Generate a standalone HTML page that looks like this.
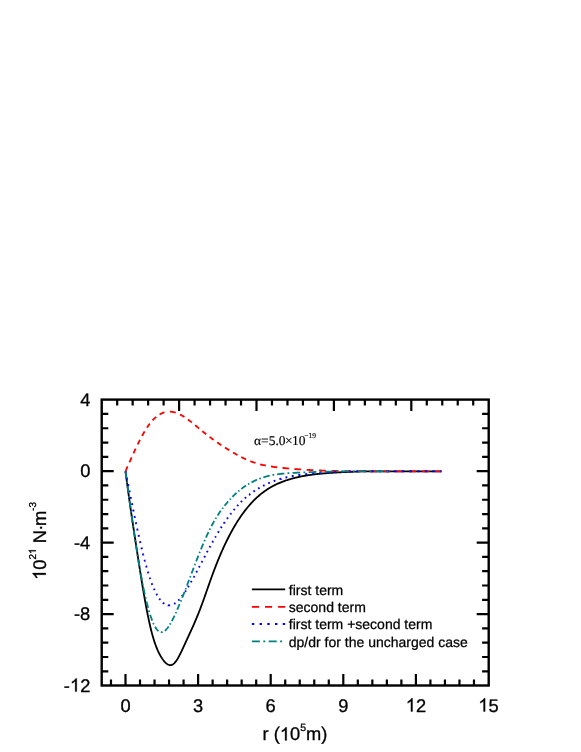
<!DOCTYPE html>
<html lang="en"><head><meta charset="utf-8"><title>chart</title>
<style>html,body{margin:0;padding:0;background:#fff;}svg{display:block;will-change:transform;}svg text{text-rendering:geometricPrecision;}</style></head>
<body>
<svg width="581" height="752" viewBox="0 0 581 752">
<rect width="581" height="752" fill="#fff"/>
<path d="M125.50,471.30 L126.13,476.12 L126.76,480.89 L127.40,485.60 L128.03,490.25 L128.66,494.84 L129.29,499.39 L129.92,503.87 L130.56,508.30 L131.19,512.68 L131.82,517.00 L132.45,521.26 L133.08,525.48 L133.72,529.65 L134.35,533.79 L134.98,537.91 L135.61,542.01 L136.24,546.10 L136.88,550.19 L137.51,554.28 L138.14,558.37 L138.77,562.45 L139.40,566.50 L140.04,570.53 L140.67,574.53 L141.30,578.49 L141.93,582.40 L142.56,586.25 L143.20,590.04 L143.83,593.77 L144.46,597.41 L145.09,600.98 L145.72,604.45 L146.36,607.84 L146.99,611.13 L147.62,614.33 L148.25,617.42 L148.88,620.41 L149.52,623.28 L150.15,626.05 L150.78,628.70 L151.41,631.23 L152.04,633.64 L152.68,635.93 L153.31,638.10 L153.94,640.15 L154.57,642.10 L155.20,643.94 L155.84,645.69 L156.47,647.33 L157.10,648.89 L157.73,650.36 L158.36,651.74 L159.00,653.04 L159.63,654.27 L160.26,655.43 L160.89,656.52 L161.52,657.54 L162.16,658.51 L162.79,659.42 L163.42,660.28 L164.05,661.08 L164.68,661.81 L165.32,662.49 L165.95,663.09 L166.58,663.62 L167.21,664.08 L167.84,664.45 L168.48,664.75 L169.11,664.97 L169.74,665.10 L170.37,665.14 L171.00,665.09 L171.64,664.94 L172.27,664.69 L172.90,664.34 L173.53,663.89 L174.16,663.33 L174.80,662.68 L175.43,661.93 L176.06,661.11 L176.69,660.20 L177.32,659.22 L177.96,658.17 L178.59,657.06 L179.22,655.90 L179.85,654.69 L180.48,653.44 L181.12,652.14 L181.75,650.82 L182.38,649.48 L183.01,648.11 L183.64,646.74 L184.28,645.35 L184.91,643.97 L185.54,642.59 L186.17,641.21 L186.81,639.84 L187.44,638.48 L188.07,637.11 L188.70,635.74 L189.33,634.37 L189.97,632.99 L190.60,631.61 L191.23,630.23 L191.86,628.83 L192.49,627.43 L193.13,626.01 L193.76,624.58 L194.39,623.14 L195.02,621.68 L195.65,620.21 L196.29,618.71 L196.92,617.20 L197.55,615.66 L198.18,614.10 L198.81,612.52 L199.45,610.91 L200.08,609.27 L200.71,607.60 L201.34,605.92 L201.97,604.21 L202.61,602.48 L203.24,600.73 L203.87,598.97 L204.50,597.19 L205.13,595.41 L205.77,593.62 L206.40,591.82 L207.03,590.02 L207.66,588.21 L208.29,586.41 L208.93,584.61 L209.56,582.82 L210.19,581.04 L210.82,579.26 L211.45,577.50 L212.09,575.75 L212.72,574.02 L213.35,572.31 L213.98,570.62 L214.61,568.95 L215.25,567.30 L215.88,565.67 L216.51,564.07 L217.14,562.48 L217.77,560.91 L218.41,559.36 L219.04,557.84 L219.67,556.33 L220.30,554.84 L220.93,553.37 L221.57,551.92 L222.20,550.49 L222.83,549.08 L223.46,547.69 L224.09,546.32 L224.73,544.97 L225.36,543.63 L225.99,542.31 L226.62,541.01 L227.25,539.73 L227.89,538.47 L228.52,537.22 L229.15,536.00 L229.78,534.79 L230.41,533.59 L231.05,532.42 L231.68,531.26 L232.31,530.12 L232.94,529.00 L233.57,527.89 L234.21,526.80 L234.84,525.72 L235.47,524.67 L236.10,523.62 L236.73,522.60 L237.37,521.59 L238.00,520.59 L238.63,519.62 L239.26,518.65 L239.89,517.71 L240.53,516.77 L241.16,515.86 L241.79,514.96 L242.42,514.07 L243.05,513.20 L243.69,512.34 L244.32,511.49 L244.95,510.66 L245.58,509.85 L246.21,509.05 L246.85,508.26 L247.48,507.49 L248.11,506.73 L248.74,505.98 L249.37,505.25 L250.01,504.53 L250.64,503.82 L251.27,503.12 L251.90,502.44 L252.53,501.77 L253.17,501.12 L253.80,500.47 L254.43,499.84 L255.06,499.22 L255.69,498.61 L256.33,498.02 L256.96,497.43 L257.59,496.86 L258.22,496.30 L258.85,495.75 L259.49,495.21 L260.12,494.68 L260.75,494.16 L261.38,493.65 L262.01,493.15 L262.65,492.67 L263.28,492.19 L263.91,491.72 L264.54,491.26 L265.17,490.81 L265.81,490.38 L266.44,489.95 L267.07,489.53 L267.70,489.12 L268.33,488.71 L268.97,488.32 L269.60,487.94 L270.23,487.56 L270.86,487.19 L271.49,486.83 L272.13,486.48 L272.76,486.14 L273.39,485.80 L274.02,485.47 L274.65,485.15 L275.29,484.84 L275.92,484.53 L276.55,484.23 L277.18,483.94 L277.81,483.65 L278.45,483.37 L279.08,483.09 L279.71,482.83 L280.34,482.57 L280.97,482.31 L281.61,482.06 L282.24,481.82 L282.87,481.58 L283.50,481.34 L284.13,481.11 L284.77,480.89 L285.40,480.67 L286.03,480.46 L286.66,480.25 L287.29,480.04 L287.93,479.84 L288.56,479.65 L289.19,479.45 L289.82,479.27 L290.45,479.08 L291.09,478.90 L291.72,478.72 L292.35,478.55 L292.98,478.38 L293.61,478.21 L294.25,478.05 L294.88,477.89 L295.51,477.73 L296.14,477.58 L296.77,477.43 L297.41,477.28 L298.04,477.14 L298.67,477.00 L299.30,476.86 L299.93,476.72 L300.57,476.59 L301.20,476.46 L301.83,476.34 L302.46,476.22 L303.09,476.10 L303.73,475.98 L304.36,475.86 L304.99,475.75 L305.62,475.64 L306.26,475.54 L306.89,475.43 L307.52,475.33 L308.15,475.23 L308.78,475.13 L309.42,475.04 L310.05,474.95 L310.68,474.86 L311.31,474.77 L311.94,474.68 L312.58,474.60 L313.21,474.52 L313.84,474.44 L314.47,474.36 L315.10,474.29 L315.74,474.21 L316.37,474.14 L317.00,474.07 L317.63,474.00 L318.26,473.93 L318.90,473.87 L319.53,473.80 L320.16,473.74 L320.79,473.68 L321.42,473.62 L322.06,473.56 L322.69,473.50 L323.32,473.45 L323.95,473.39 L324.58,473.34 L325.22,473.29 L325.85,473.23 L326.48,473.18 L327.11,473.14 L327.74,473.09 L328.38,473.04 L329.01,472.99 L329.64,472.95 L330.27,472.90 L330.90,472.86 L331.54,472.81 L332.17,472.77 L332.80,472.73 L333.43,472.69 L334.06,472.65 L334.70,472.61 L335.33,472.57 L335.96,472.53 L336.59,472.49 L337.22,472.45 L337.86,472.42 L338.49,472.38 L339.12,472.35 L339.75,472.31 L340.38,472.28 L341.02,472.25 L341.65,472.21 L342.28,472.18 L342.91,472.15 L343.54,472.12 L344.18,472.09 L344.81,472.06 L345.44,472.04 L346.07,472.01 L346.70,471.98 L347.34,471.96 L347.97,471.93 L348.60,471.91 L349.23,471.88 L349.86,471.86 L350.50,471.83 L351.13,471.81 L351.76,471.79 L352.39,471.76 L353.02,471.74 L353.66,471.71 L354.29,471.69 L354.92,471.66 L355.55,471.64 L356.18,471.62 L356.82,471.59 L357.45,471.57 L358.08,471.55 L358.71,471.53 L359.34,471.51 L359.98,471.49 L360.61,471.47 L361.24,471.45 L361.87,471.44 L362.50,471.42 L363.14,471.41 L363.77,471.40 L364.40,471.38 L365.03,471.37 L365.66,471.36 L366.30,471.35 L366.93,471.35 L367.56,471.34 L368.19,471.33 L368.82,471.33 L369.46,471.32 L370.09,471.32 L370.72,471.31 L371.35,471.31 L371.98,471.31 L372.62,471.31 L373.25,471.30 L373.88,471.30 L374.51,471.30 L375.14,471.30 L375.78,471.30 L376.41,471.30 L377.04,471.30 L377.67,471.30 L378.30,471.30 L378.94,471.30 L379.57,471.30 L380.20,471.30 L380.83,471.30 L381.46,471.30 L382.10,471.30 L382.73,471.30 L383.36,471.30 L383.99,471.30 L384.62,471.30 L385.26,471.30 L385.89,471.30 L386.52,471.30 L387.15,471.30 L387.78,471.30 L388.42,471.30 L389.05,471.30 L389.68,471.30 L390.31,471.30 L390.94,471.30 L391.58,471.30 L392.21,471.30 L392.84,471.30 L393.47,471.30 L394.10,471.30 L394.74,471.30 L395.37,471.30 L396.00,471.30 L396.63,471.30 L397.26,471.30 L397.90,471.30 L398.53,471.30 L399.16,471.30 L399.79,471.30 L400.42,471.30 L401.06,471.30 L401.69,471.30 L402.32,471.30 L402.95,471.30 L403.58,471.30 L404.22,471.30 L404.85,471.30 L405.48,471.30 L406.11,471.30 L406.74,471.30 L407.38,471.30 L408.01,471.30 L408.64,471.30 L409.27,471.30 L409.90,471.30 L410.54,471.30 L411.17,471.30 L411.80,471.30 L412.43,471.30 L413.06,471.30 L413.70,471.30 L414.33,471.30 L414.96,471.30 L415.59,471.30 L416.22,471.30 L416.86,471.30 L417.49,471.30 L418.12,471.30 L418.75,471.30 L419.38,471.30 L420.02,471.30 L420.65,471.30 L421.28,471.30 L421.91,471.30 L422.55,471.30 L423.18,471.30 L423.81,471.30 L424.44,471.30 L425.07,471.30 L425.71,471.30 L426.34,471.30 L426.97,471.30 L427.60,471.30 L428.23,471.30 L428.87,471.30 L429.50,471.30 L430.13,471.30 L430.76,471.30 L431.39,471.30 L432.03,471.30 L432.66,471.30 L433.29,471.30 L433.92,471.30 L434.55,471.30 L435.19,471.30 L435.82,471.30 L436.45,471.30 L437.08,471.30 L437.71,471.30 L438.35,471.30 L438.98,471.30 L439.61,471.30 L440.24,471.30 L440.87,471.30 L441.40,471.30" fill="none" stroke="#000" stroke-width="1.80" stroke-linejoin="round"/>
<path d="M125.50,471.30 L125.61,471.06 L125.92,470.34 L126.24,469.62 L126.55,468.90 L126.87,468.19 L127.19,467.47 L127.50,466.75 L127.64,466.44 M129.47,462.27 L129.50,462.21 L129.82,461.49 L130.13,460.78 L130.45,460.07 L130.77,459.36 L131.08,458.65 L131.40,457.94 L131.63,457.43 M133.50,453.30 L133.51,453.28 L133.82,452.59 L134.14,451.90 L134.45,451.22 L134.77,450.54 L135.09,449.86 L135.40,449.18 L135.72,448.52 M137.66,444.46 L137.72,444.33 L138.03,443.69 L138.35,443.05 L138.67,442.41 L138.98,441.78 L139.30,441.15 L139.61,440.53 L139.93,439.91 L139.99,439.79 M142.07,435.87 L142.14,435.73 L142.56,434.96 L142.99,434.21 L143.41,433.46 L143.83,432.73 L144.25,432.01 L144.61,431.41 M146.92,427.72 L146.99,427.61 L147.41,426.98 L147.83,426.37 L148.25,425.77 L148.67,425.18 L149.10,424.61 L149.52,424.05 L149.83,423.63 M152.57,420.37 L152.68,420.26 L153.20,419.70 L153.73,419.16 L154.26,418.64 L154.78,418.14 L155.31,417.66 L155.84,417.20 L156.14,416.94 M159.63,414.43 L159.73,414.37 L160.47,413.95 L161.21,413.57 L161.95,413.22 L162.68,412.91 L163.42,412.63 L164.16,412.39 L164.49,412.29 M169.81,411.63 L169.85,411.63 L170.79,411.68 L171.74,411.78 L172.69,411.93 L173.64,412.12 L174.59,412.36 L175.53,412.64 L175.74,412.70 M179.98,414.46 L180.06,414.50 L180.80,414.88 L181.54,415.28 L182.28,415.70 L183.01,416.14 L183.75,416.60 L184.42,417.02 M187.96,419.48 L187.96,419.48 L188.60,419.95 L189.23,420.43 L189.86,420.92 L190.49,421.41 L191.12,421.90 L191.76,422.41 L191.91,422.53 M195.21,425.23 L195.23,425.25 L195.86,425.77 L196.50,426.30 L197.13,426.83 L197.76,427.35 L198.39,427.88 L199.02,428.41 L199.03,428.41 M202.30,431.14 L202.39,431.21 L203.03,431.73 L203.66,432.25 L204.29,432.76 L204.92,433.27 L205.55,433.78 L206.17,434.27 M209.54,436.90 L209.56,436.91 L210.19,437.38 L210.82,437.86 L211.45,438.33 L212.09,438.79 L212.72,439.26 L213.35,439.71 L213.57,439.87 M217.09,442.35 L217.14,442.39 L217.77,442.82 L218.41,443.25 L219.04,443.68 L219.67,444.10 L220.30,444.53 L220.93,444.94 L221.27,445.17 M224.92,447.52 L224.94,447.53 L225.57,447.93 L226.20,448.33 L226.83,448.72 L227.46,449.11 L228.10,449.50 L228.73,449.89 L229.24,450.20 M232.99,452.45 L233.05,452.49 L233.78,452.92 L234.52,453.34 L235.26,453.77 L236.00,454.18 L236.73,454.60 L237.45,454.99 M241.36,457.08 L241.37,457.08 L242.11,457.46 L242.84,457.82 L243.58,458.19 L244.32,458.54 L245.06,458.89 L245.79,459.23 L246.08,459.36 M250.29,461.15 L250.32,461.16 L251.16,461.49 L252.01,461.80 L252.85,462.10 L253.69,462.40 L254.54,462.68 L255.38,462.95 L255.46,462.98 M260.13,464.31 L260.22,464.33 L261.17,464.57 L262.12,464.79 L263.07,465.01 L264.02,465.22 L264.96,465.42 L265.85,465.59 M270.96,466.48 L270.97,466.48 L271.92,466.63 L272.86,466.76 L273.81,466.90 L274.76,467.02 L275.71,467.14 L276.66,467.26 L277.12,467.32 M282.53,467.91 L282.55,467.91 L283.61,468.02 L284.66,468.13 L285.71,468.23 L286.77,468.33 L287.82,468.43 L288.87,468.52 L288.91,468.53 M294.45,468.99 L294.46,468.99 L295.51,469.07 L296.56,469.15 L297.62,469.23 L298.67,469.31 L299.72,469.38 L300.78,469.46 L300.97,469.47 M306.62,469.82 L306.68,469.83 L307.73,469.89 L308.78,469.94 L309.84,470.00 L310.89,470.06 L311.94,470.11 L313.00,470.16 L313.27,470.17 M319.02,470.42 L319.11,470.43 L320.16,470.47 L321.21,470.51 L322.27,470.54 L323.32,470.58 L324.37,470.62 L325.43,470.65 L325.78,470.66 M331.62,470.82 L331.64,470.82 L332.69,470.84 L333.75,470.87 L334.80,470.89 L335.85,470.91 L336.91,470.93 L337.96,470.95 L338.48,470.96 M344.40,471.04 L344.49,471.04 L345.55,471.06 L346.60,471.07 L347.65,471.08 L348.71,471.08 L349.76,471.09 L350.81,471.10 L351.33,471.10 M357.29,471.15 L357.34,471.15 L358.50,471.16 L359.66,471.17 L360.82,471.18 L361.98,471.19 L363.14,471.20 L364.23,471.21 M370.18,471.26 L370.19,471.26 L371.35,471.26 L372.51,471.27 L373.67,471.28 L374.83,471.29 L375.99,471.29 L377.14,471.30 M383.14,471.30 L383.15,471.30 L384.31,471.30 L385.47,471.30 L386.63,471.30 L387.78,471.30 L388.94,471.30 L390.10,471.30 L390.14,471.30 M396.14,471.30 L396.21,471.30 L397.37,471.30 L398.53,471.30 L399.69,471.30 L400.85,471.30 L402.00,471.30 L403.14,471.30 M409.14,471.30 L409.17,471.30 L410.33,471.30 L411.48,471.30 L412.64,471.30 L413.80,471.30 L414.96,471.30 L416.12,471.30 L416.14,471.30 M422.14,471.30 L422.23,471.30 L423.39,471.30 L424.55,471.30 L425.71,471.30 L426.86,471.30 L428.02,471.30 L429.14,471.30 M435.14,471.30 L435.19,471.30 L436.13,471.30 L437.08,471.30 L438.03,471.30 L438.98,471.30 L439.93,471.30 L440.87,471.30 L441.40,471.30" fill="none" stroke="#ff0000" stroke-width="1.80"/>
<path d="M125.50,471.30 L125.61,471.82 L125.71,472.34 L125.82,472.87 L125.89,473.21 M126.78,477.69 L126.87,478.11 L126.97,478.63 L127.08,479.16 L127.17,479.60 M128.06,484.08 L128.13,484.42 L128.24,484.94 L128.34,485.47 L128.45,485.99 M129.34,490.47 L129.40,490.73 L129.50,491.25 L129.61,491.78 L129.71,492.30 L129.73,492.38 M130.63,496.85 L130.66,497.02 L130.77,497.54 L130.87,498.07 L130.98,498.59 L131.01,498.77 M131.92,503.23 L131.93,503.28 L132.03,503.80 L132.14,504.32 L132.24,504.84 L132.30,505.15 M133.21,509.61 L133.29,510.00 L133.40,510.51 L133.51,511.03 L133.61,511.51 M134.53,515.96 L134.56,516.13 L134.66,516.63 L134.77,517.14 L134.87,517.64 L134.92,517.87 M135.85,522.31 L135.93,522.66 L136.03,523.16 L136.14,523.65 L136.24,524.15 L136.26,524.20 M137.20,528.63 L137.30,529.06 L137.40,529.55 L137.51,530.03 L137.61,530.51 L137.61,530.52 M138.58,534.92 L138.67,535.31 L138.77,535.78 L138.88,536.25 L138.98,536.72 L139.00,536.80 M139.99,541.18 L140.04,541.37 L140.14,541.83 L140.25,542.29 L140.35,542.75 L140.42,543.05 M141.44,547.40 L141.51,547.68 L141.62,548.12 L141.72,548.56 L141.83,549.00 L141.89,549.25 M142.95,553.56 L142.99,553.73 L143.09,554.15 L143.20,554.57 L143.30,554.99 L143.41,555.40 M144.51,559.67 L144.57,559.89 L144.67,560.29 L144.78,560.69 L144.88,561.09 L144.99,561.48 L144.99,561.49 M146.14,565.71 L146.15,565.72 L146.25,566.09 L146.36,566.46 L146.46,566.84 L146.57,567.21 L146.65,567.50 M147.87,571.65 L147.94,571.87 L148.04,572.22 L148.15,572.56 L148.25,572.90 L148.36,573.25 L148.41,573.41 M149.71,577.48 L149.73,577.52 L149.83,577.84 L149.94,578.15 L150.04,578.47 L150.15,578.78 L150.25,579.09 L150.29,579.20 M151.71,583.15 L151.73,583.21 L151.83,583.49 L151.94,583.77 L152.04,584.04 L152.15,584.32 L152.26,584.59 L152.34,584.82 M153.91,588.62 L153.94,588.69 L154.05,588.93 L154.15,589.16 L154.26,589.40 L154.36,589.63 L154.47,589.87 L154.57,590.10 L154.62,590.21 M156.40,593.80 L156.47,593.93 L156.57,594.12 L156.68,594.32 L156.78,594.51 L156.89,594.70 L157.00,594.89 L157.10,595.07 L157.21,595.26 L157.22,595.28 M159.30,598.57 L159.31,598.58 L159.42,598.73 L159.52,598.88 L159.63,599.02 L159.73,599.16 L159.84,599.31 L159.94,599.45 L160.05,599.58 L160.16,599.72 L160.26,599.85 L160.29,599.88 M162.88,602.66 L162.89,602.67 L163.10,602.85 L163.32,603.02 L163.53,603.19 L163.74,603.35 L163.95,603.50 L164.16,603.65 L164.17,603.67 M167.94,605.27 L167.95,605.28 L168.27,605.32 L168.58,605.36 L168.90,605.38 L169.21,605.39 L169.53,605.38 L169.85,605.37 L170.08,605.34 M174.06,603.96 L174.16,603.90 L174.38,603.77 L174.59,603.63 L174.80,603.50 L175.01,603.35 L175.22,603.20 L175.43,603.05 L175.45,603.04 M178.30,600.52 L178.38,600.44 L178.48,600.33 L178.59,600.22 L178.69,600.11 L178.80,600.00 L178.90,599.88 L179.01,599.77 L179.12,599.65 L179.22,599.54 L179.33,599.42 L179.41,599.33 M181.83,596.38 L181.85,596.35 L181.96,596.22 L182.06,596.08 L182.17,595.94 L182.28,595.80 L182.38,595.65 L182.49,595.51 L182.59,595.37 L182.70,595.23 L182.80,595.08 L182.81,595.07 M185.01,591.89 L185.01,591.89 L185.12,591.73 L185.23,591.57 L185.33,591.41 L185.44,591.25 L185.54,591.09 L185.65,590.93 L185.75,590.77 L185.86,590.60 L185.92,590.50 M187.99,587.20 L188.07,587.06 L188.17,586.89 L188.28,586.72 L188.39,586.54 L188.49,586.37 L188.60,586.19 L188.70,586.02 L188.81,585.84 L188.85,585.77 M190.84,582.38 L190.91,582.24 L191.02,582.06 L191.12,581.88 L191.23,581.69 L191.33,581.51 L191.44,581.32 L191.55,581.14 L191.65,580.95 L191.67,580.92 M193.60,577.47 L193.65,577.37 L193.76,577.18 L193.86,576.99 L193.97,576.80 L194.07,576.61 L194.18,576.42 L194.28,576.22 L194.39,576.03 L194.41,575.99 M196.30,572.50 L196.39,572.33 L196.50,572.13 L196.60,571.94 L196.71,571.74 L196.81,571.54 L196.92,571.35 L197.02,571.15 L197.10,571.00 M198.96,567.49 L199.02,567.37 L199.13,567.17 L199.23,566.97 L199.34,566.77 L199.45,566.57 L199.55,566.37 L199.66,566.17 L199.75,565.99 M201.60,562.46 L201.66,562.35 L201.76,562.15 L201.87,561.95 L201.97,561.75 L202.08,561.54 L202.18,561.34 L202.29,561.14 L202.39,560.95 M204.23,557.43 L204.29,557.32 L204.40,557.12 L204.50,556.92 L204.61,556.71 L204.71,556.51 L204.82,556.31 L204.92,556.11 L205.02,555.92 M206.88,552.40 L206.92,552.32 L207.03,552.12 L207.13,551.92 L207.24,551.72 L207.35,551.52 L207.45,551.33 L207.56,551.13 L207.66,550.93 L207.68,550.90 M209.55,547.41 L209.56,547.40 L209.66,547.21 L209.77,547.01 L209.87,546.82 L209.98,546.63 L210.08,546.43 L210.19,546.24 L210.29,546.05 L210.37,545.92 M212.28,542.46 L212.30,542.43 L212.40,542.24 L212.51,542.05 L212.61,541.87 L212.72,541.68 L212.82,541.49 L212.93,541.30 L213.03,541.12 L213.11,540.99 M215.06,537.58 L215.14,537.44 L215.25,537.26 L215.35,537.08 L215.46,536.90 L215.56,536.72 L215.67,536.54 L215.77,536.36 L215.88,536.18 L215.91,536.13 M217.92,532.76 L217.98,532.65 L218.09,532.48 L218.19,532.31 L218.30,532.13 L218.41,531.96 L218.51,531.79 L218.62,531.62 L218.72,531.44 L218.79,531.33 M220.85,528.03 L220.93,527.90 L221.04,527.73 L221.14,527.57 L221.25,527.40 L221.35,527.24 L221.46,527.07 L221.57,526.91 L221.67,526.74 L221.75,526.62 M223.88,523.38 L223.88,523.37 L223.99,523.21 L224.09,523.05 L224.20,522.90 L224.30,522.74 L224.41,522.58 L224.52,522.43 L224.62,522.27 L224.73,522.12 L224.80,522.01 M227.00,518.84 L227.04,518.78 L227.15,518.63 L227.25,518.48 L227.36,518.33 L227.46,518.19 L227.57,518.04 L227.68,517.89 L227.78,517.75 L227.89,517.60 L227.96,517.50 M230.25,514.41 L230.31,514.33 L230.41,514.19 L230.52,514.05 L230.62,513.91 L230.73,513.78 L230.84,513.64 L230.94,513.50 L231.05,513.37 L231.15,513.23 L231.25,513.11 M233.63,510.12 L233.68,510.06 L233.78,509.94 L233.89,509.81 L234.00,509.68 L234.10,509.56 L234.21,509.43 L234.31,509.30 L234.42,509.18 L234.52,509.05 L234.63,508.93 L234.68,508.87 M237.18,506.00 L237.26,505.91 L237.37,505.80 L237.47,505.68 L237.58,505.57 L237.68,505.45 L237.79,505.34 L237.89,505.22 L238.00,505.11 L238.10,505.00 L238.21,504.88 L238.28,504.80 M240.92,502.08 L240.95,502.05 L241.05,501.94 L241.16,501.84 L241.26,501.74 L241.37,501.63 L241.47,501.53 L241.58,501.43 L241.68,501.32 L241.79,501.22 L241.90,501.12 L242.00,501.02 L242.08,500.94 M244.87,498.36 L244.95,498.29 L245.06,498.19 L245.16,498.10 L245.27,498.01 L245.37,497.92 L245.48,497.82 L245.58,497.73 L245.69,497.64 L245.79,497.55 L245.90,497.46 L246.00,497.37 L246.10,497.28 M249.05,494.86 L249.06,494.86 L249.27,494.69 L249.48,494.53 L249.69,494.36 L249.90,494.20 L250.11,494.04 L250.32,493.88 L250.35,493.86 M253.47,491.61 L253.48,491.60 L253.69,491.45 L253.90,491.31 L254.11,491.17 L254.32,491.02 L254.54,490.88 L254.75,490.74 L254.84,490.68 M258.13,488.61 L258.22,488.55 L258.43,488.43 L258.64,488.30 L258.85,488.18 L259.06,488.05 L259.28,487.93 L259.49,487.81 L259.58,487.75 M263.05,485.86 L263.07,485.85 L263.28,485.74 L263.49,485.63 L263.70,485.52 L263.91,485.42 L264.12,485.31 L264.33,485.20 L264.54,485.10 L264.58,485.08 M268.23,483.36 L268.33,483.32 L268.55,483.22 L268.76,483.13 L268.97,483.04 L269.18,482.95 L269.39,482.86 L269.60,482.77 L269.81,482.68 L269.83,482.67 M273.68,481.14 L273.71,481.13 L273.92,481.06 L274.13,480.98 L274.34,480.90 L274.55,480.82 L274.76,480.75 L274.97,480.67 L275.18,480.60 L275.37,480.53 M279.41,479.21 L279.50,479.18 L279.71,479.12 L279.92,479.05 L280.13,478.99 L280.34,478.93 L280.55,478.87 L280.76,478.81 L280.97,478.75 L281.19,478.69 L281.19,478.68 M285.44,477.56 L285.50,477.55 L285.82,477.47 L286.14,477.40 L286.45,477.32 L286.77,477.25 L287.08,477.18 L287.30,477.13 M291.75,476.21 L291.82,476.19 L292.14,476.13 L292.46,476.07 L292.77,476.02 L293.09,475.96 L293.40,475.90 L293.70,475.85 M298.33,475.12 L298.35,475.11 L298.67,475.07 L298.99,475.02 L299.30,474.98 L299.62,474.94 L299.93,474.89 L300.25,474.85 L300.36,474.84 M305.15,474.26 L305.20,474.26 L305.52,474.22 L305.83,474.19 L306.15,474.16 L306.47,474.12 L306.78,474.09 L307.10,474.06 L307.23,474.05 M312.15,473.59 L312.15,473.59 L312.47,473.56 L312.79,473.54 L313.10,473.51 L313.42,473.48 L313.73,473.46 L314.05,473.43 L314.27,473.41 M319.26,473.03 L319.32,473.03 L319.63,473.00 L319.95,472.98 L320.26,472.96 L320.58,472.94 L320.90,472.92 L321.21,472.89 L321.41,472.88 M326.45,472.56 L326.48,472.56 L326.80,472.54 L327.11,472.52 L327.43,472.50 L327.74,472.48 L328.06,472.46 L328.38,472.45 L328.63,472.43 M333.73,472.16 L333.75,472.16 L334.06,472.15 L334.38,472.13 L334.70,472.12 L335.01,472.10 L335.33,472.09 L335.64,472.07 L335.93,472.06 M341.08,471.85 L341.12,471.85 L341.44,471.83 L341.75,471.82 L342.07,471.81 L342.38,471.80 L342.70,471.79 L343.02,471.78 L343.30,471.77 M348.51,471.60 L348.60,471.60 L348.92,471.59 L349.23,471.58 L349.55,471.57 L349.86,471.56 L350.18,471.55 L350.50,471.55 L350.75,471.54 M355.98,471.41 L356.08,471.41 L356.39,471.40 L356.71,471.39 L357.03,471.39 L357.34,471.38 L357.66,471.37 L357.97,471.37 L358.24,471.36 M363.54,471.30 L363.56,471.30 L363.87,471.29 L364.19,471.29 L364.51,471.29 L364.82,471.29 L365.14,471.29 L365.45,471.29 L365.77,471.28 L365.83,471.28 M371.19,471.28 L371.25,471.28 L371.56,471.28 L371.88,471.29 L372.19,471.29 L372.51,471.29 L372.83,471.29 L373.14,471.29 L373.46,471.29 L373.49,471.29 M378.85,471.30 L378.94,471.30 L379.25,471.30 L379.57,471.30 L379.88,471.30 L380.20,471.30 L380.52,471.30 L380.83,471.30 L381.15,471.30 M386.52,471.30 L386.52,471.30 L386.84,471.30 L387.15,471.30 L387.47,471.30 L387.78,471.30 L388.10,471.30 L388.42,471.30 L388.73,471.30 L388.82,471.30 M394.19,471.30 L394.21,471.30 L394.53,471.30 L394.84,471.30 L395.16,471.30 L395.47,471.30 L395.79,471.30 L396.11,471.30 L396.42,471.30 L396.49,471.30 M401.86,471.30 L401.90,471.30 L402.22,471.30 L402.53,471.30 L402.85,471.30 L403.16,471.30 L403.48,471.30 L403.80,471.30 L404.11,471.30 L404.16,471.30 M409.53,471.30 L409.59,471.30 L409.90,471.30 L410.22,471.30 L410.54,471.30 L410.85,471.30 L411.17,471.30 L411.48,471.30 L411.80,471.30 L411.83,471.30 M417.20,471.30 L417.28,471.30 L417.59,471.30 L417.91,471.30 L418.23,471.30 L418.54,471.30 L418.86,471.30 L419.17,471.30 L419.49,471.30 L419.50,471.30 M424.87,471.30 L424.97,471.30 L425.28,471.30 L425.60,471.30 L425.92,471.30 L426.23,471.30 L426.55,471.30 L426.86,471.30 L427.17,471.30 M432.54,471.30 L432.55,471.30 L432.87,471.30 L433.18,471.30 L433.50,471.30 L433.82,471.30 L434.13,471.30 L434.45,471.30 L434.76,471.30 L434.84,471.30 M440.21,471.30 L440.24,471.30 L440.35,471.30 L440.45,471.30 L440.56,471.30 L440.66,471.30 L440.77,471.30 L440.87,471.30 L440.98,471.30 L441.08,471.30 L441.19,471.30 L441.29,471.30 L441.40,471.30" fill="none" stroke="#0000ff" stroke-width="1.95"/>
<path d="M125.50,471.30 L125.59,471.95 L125.68,472.60 L125.76,473.25 L125.85,473.90 L125.94,474.55 L126.03,475.20 L126.12,475.85 L126.20,476.50 L126.29,477.15 L126.38,477.80 L126.45,478.35 M126.86,481.34 L126.91,481.69 L126.99,482.34 L127.08,482.99 L127.10,483.10 M127.50,486.10 L127.52,486.22 L127.61,486.87 L127.70,487.51 L127.78,488.15 L127.87,488.80 L127.96,489.44 L128.05,490.09 L128.14,490.73 L128.22,491.37 L128.31,492.01 L128.40,492.65 L128.47,493.13 M128.88,496.12 L128.93,496.49 L129.01,497.13 L129.10,497.77 L129.12,497.88 M129.53,500.87 L129.54,500.95 L129.72,502.21 L129.89,503.48 L130.07,504.74 L130.24,506.00 L130.42,507.26 L130.51,507.89 M130.93,510.87 L130.95,511.02 L131.04,511.64 L131.12,512.26 L131.17,512.63 M131.60,515.60 L131.65,515.98 L131.74,516.60 L131.83,517.22 L131.91,517.83 L132.00,518.45 L132.09,519.06 L132.18,519.67 L132.27,520.28 L132.35,520.90 L132.44,521.51 L132.53,522.12 L132.60,522.60 M133.03,525.57 L133.06,525.75 L133.14,526.36 L133.23,526.96 L133.28,527.32 M133.72,530.28 L133.76,530.55 L133.93,531.74 L134.11,532.92 L134.29,534.10 L134.46,535.28 L134.64,536.45 L134.76,537.24 M135.20,540.20 L135.25,540.51 L135.34,541.09 L135.43,541.66 L135.47,541.93 M135.92,544.88 L135.96,545.09 L136.13,546.22 L136.31,547.34 L136.48,548.47 L136.66,549.58 L136.83,550.69 L137.01,551.79 M137.48,554.72 L137.54,555.08 L137.63,555.62 L137.71,556.16 L137.76,556.44 M138.24,559.36 L138.24,559.37 L138.42,560.43 L138.59,561.49 L138.77,562.53 L138.94,563.57 L139.12,564.61 L139.29,565.64 L139.39,566.21 M139.90,569.10 L139.91,569.19 L140.00,569.69 L140.09,570.18 L140.17,570.68 L140.19,570.81 M140.71,573.69 L140.79,574.11 L140.96,575.08 L141.14,576.04 L141.32,576.99 L141.49,577.93 L141.67,578.87 L141.84,579.79 L141.96,580.44 M142.52,583.28 L142.55,583.43 L142.63,583.88 L142.72,584.32 L142.81,584.77 L142.85,584.95 M143.42,587.78 L143.42,587.81 L143.60,588.66 L143.78,589.51 L143.95,590.34 L144.13,591.17 L144.30,591.99 L144.48,592.81 L144.65,593.61 L144.82,594.38 M145.45,597.15 L145.53,597.52 L145.62,597.90 L145.71,598.27 L145.80,598.65 L145.83,598.77 M146.48,601.52 L146.50,601.59 L146.76,602.65 L147.03,603.70 L147.29,604.73 L147.55,605.75 L147.82,606.74 L148.08,607.72 L148.12,607.88 M148.87,610.53 L148.87,610.54 L148.96,610.84 L149.05,611.14 L149.14,611.44 L149.22,611.74 L149.31,612.03 L149.32,612.08 M150.13,614.67 L150.19,614.86 L150.54,615.94 L150.89,616.98 L151.24,617.99 L151.60,618.96 L151.95,619.90 L152.21,620.59 M153.21,622.99 L153.26,623.13 L153.35,623.33 L153.44,623.52 L153.53,623.72 L153.62,623.91 L153.70,624.10 L153.79,624.28 L153.83,624.37 M154.99,626.61 L155.02,626.68 L155.55,627.57 L156.08,628.39 L156.60,629.12 L157.13,629.78 L157.66,630.36 L158.18,630.85 L158.49,631.11 M160.84,632.16 L160.91,632.17 L161.17,632.19 L161.44,632.20 L161.70,632.19 L161.96,632.16 L162.23,632.11 L162.49,632.05 L162.62,632.01 M164.82,630.82 L164.86,630.79 L165.48,630.27 L166.09,629.67 L166.71,629.01 L167.32,628.27 L167.94,627.48 L168.55,626.62 L168.58,626.58 M169.91,624.51 L169.96,624.44 L170.05,624.29 L170.13,624.15 L170.22,624.00 L170.31,623.85 L170.40,623.70 L170.49,623.55 L170.57,623.40 L170.66,623.26 M171.87,621.06 L171.89,621.02 L172.33,620.18 L172.77,619.32 L173.21,618.44 L173.65,617.55 L174.09,616.63 L174.52,615.72 M175.59,613.39 L175.67,613.23 L175.76,613.03 L175.85,612.84 L175.93,612.64 L176.02,612.45 L176.11,612.25 L176.20,612.06 L176.22,612.01 M177.26,609.65 L177.34,609.47 L177.69,608.66 L178.04,607.84 L178.39,607.01 L178.74,606.18 L179.10,605.35 L179.45,604.51 L179.64,604.04 M180.63,601.63 L180.68,601.52 L180.77,601.31 L180.85,601.09 L180.94,600.88 L181.03,600.66 L181.12,600.44 L181.20,600.23 L181.21,600.21 M182.19,597.78 L182.26,597.60 L182.61,596.72 L182.96,595.83 L183.31,594.94 L183.67,594.05 L184.02,593.15 L184.37,592.25 L184.45,592.04 M185.40,589.59 L185.42,589.53 L185.51,589.30 L185.60,589.07 L185.69,588.84 L185.77,588.61 L185.86,588.38 L185.95,588.16 L185.95,588.15 M186.89,585.69 L186.92,585.63 L187.27,584.71 L187.62,583.79 L187.97,582.87 L188.32,581.94 L188.67,581.01 L189.02,580.09 L189.10,579.90 M190.03,577.43 L190.08,577.30 L190.17,577.07 L190.25,576.84 L190.34,576.61 L190.43,576.37 L190.52,576.14 L190.58,575.98 M191.51,573.51 L191.57,573.35 L191.92,572.42 L192.28,571.50 L192.63,570.57 L192.98,569.64 L193.33,568.72 L193.68,567.80 L193.71,567.71 M194.65,565.25 L194.74,565.04 L194.82,564.81 L194.91,564.58 L195.00,564.35 L195.09,564.12 L195.18,563.89 L195.21,563.81 M196.15,561.35 L196.23,561.16 L196.58,560.25 L196.93,559.35 L197.28,558.45 L197.64,557.55 L197.99,556.66 L198.34,555.77 L198.40,555.60 M199.37,553.17 L199.39,553.12 L199.48,552.91 L199.57,552.69 L199.66,552.47 L199.74,552.25 L199.83,552.03 L199.92,551.81 L199.95,551.75 M200.93,549.33 L200.97,549.22 L201.33,548.37 L201.68,547.52 L202.03,546.67 L202.38,545.83 L202.73,544.99 L203.08,544.16 L203.29,543.68 M204.31,541.31 L204.31,541.29 L204.40,541.09 L204.49,540.89 L204.58,540.69 L204.66,540.49 L204.75,540.29 L204.84,540.09 L204.92,539.91 M205.96,537.56 L205.98,537.51 L206.33,536.73 L206.69,535.96 L207.04,535.19 L207.39,534.43 L207.74,533.68 L208.09,532.93 L208.44,532.19 L208.49,532.09 M209.60,529.80 L209.67,529.66 L209.76,529.48 L209.85,529.31 L209.94,529.13 L210.02,528.95 L210.11,528.78 L210.20,528.60 L210.27,528.47 M211.42,526.22 L211.43,526.20 L211.87,525.36 L212.31,524.54 L212.75,523.73 L213.19,522.93 L213.63,522.14 L214.07,521.36 L214.25,521.04 M215.50,518.90 L215.56,518.80 L215.65,518.65 L215.73,518.51 L215.82,518.36 L215.91,518.22 L216.00,518.07 L216.09,517.93 L216.17,517.78 L216.25,517.65 M217.56,515.56 L217.58,515.53 L218.11,514.71 L218.63,513.91 L219.16,513.12 L219.69,512.34 L220.22,511.58 L220.74,510.83 L220.78,510.78 M222.21,508.80 L222.24,508.76 L222.32,508.64 L222.41,508.53 L222.50,508.41 L222.59,508.29 L222.68,508.17 L222.76,508.06 L222.85,507.94 L222.94,507.82 L223.03,507.71 L223.06,507.66 M224.55,505.75 L224.61,505.67 L225.14,505.01 L225.66,504.37 L226.19,503.73 L226.72,503.10 L227.24,502.48 L227.77,501.87 L228.19,501.39 M229.80,499.60 L229.88,499.51 L229.97,499.41 L230.06,499.32 L230.14,499.22 L230.23,499.13 L230.32,499.03 L230.41,498.94 L230.50,498.84 L230.58,498.75 L230.67,498.66 L230.76,498.56 L230.76,498.56 M232.43,496.83 L232.52,496.75 L233.13,496.13 L233.75,495.53 L234.36,494.94 L234.98,494.35 L235.59,493.78 L236.21,493.22 L236.53,492.93 M238.35,491.35 L238.40,491.30 L238.58,491.15 L238.75,491.01 L238.93,490.86 L239.11,490.71 L239.28,490.57 L239.44,490.44 M241.34,488.94 L241.39,488.90 L242.09,488.36 L242.80,487.84 L243.50,487.33 L244.20,486.84 L244.91,486.35 L245.61,485.88 L246.02,485.61 M248.10,484.30 L248.16,484.27 L248.33,484.16 L248.51,484.05 L248.68,483.95 L248.86,483.85 L249.03,483.74 L249.21,483.64 L249.36,483.55 M251.54,482.34 L251.58,482.32 L252.46,481.86 L253.34,481.42 L254.22,480.99 L255.10,480.58 L255.98,480.18 L256.85,479.80 L256.96,479.76 M259.38,478.78 L259.40,478.77 L259.58,478.71 L259.75,478.64 L259.93,478.57 L260.11,478.51 L260.28,478.44 L260.46,478.38 L260.63,478.32 L260.81,478.25 L260.84,478.24 M263.39,477.39 L263.44,477.37 L264.50,477.05 L265.55,476.74 L266.61,476.45 L267.66,476.18 L268.72,475.92 L269.69,475.69 M272.51,475.11 L272.58,475.09 L272.85,475.04 L273.11,474.99 L273.37,474.94 L273.64,474.90 L273.90,474.85 L274.16,474.80 L274.20,474.80 M277.14,474.33 L277.15,474.33 L278.29,474.17 L279.44,474.03 L280.58,473.89 L281.72,473.76 L282.86,473.65 L284.00,473.54 L284.32,473.51 M287.46,473.26 L287.52,473.26 L287.78,473.24 L288.05,473.22 L288.31,473.20 L288.57,473.18 L288.84,473.17 L289.10,473.15 L289.34,473.13 M292.55,472.94 L292.61,472.94 L293.84,472.87 L295.07,472.81 L296.30,472.75 L297.54,472.69 L298.77,472.63 L300.00,472.57 L300.17,472.57 M303.42,472.42 L303.51,472.42 L303.77,472.41 L304.04,472.39 L304.30,472.38 L304.56,472.37 L304.83,472.36 L305.09,472.35 L305.34,472.34 M308.61,472.21 L308.69,472.21 L309.92,472.16 L311.15,472.12 L312.38,472.07 L313.61,472.03 L314.84,471.99 L316.07,471.95 L316.34,471.94 M319.64,471.84 L319.68,471.84 L319.94,471.83 L320.20,471.82 L320.47,471.82 L320.73,471.81 L320.99,471.80 L321.26,471.79 L321.52,471.79 L321.59,471.79 M324.90,471.70 L324.95,471.70 L326.18,471.67 L327.41,471.64 L328.64,471.61 L329.87,471.58 L331.10,471.56 L332.33,471.53 L332.72,471.52 M336.05,471.45 L336.11,471.45 L336.37,471.44 L336.63,471.44 L336.90,471.43 L337.16,471.43 L337.42,471.42 L337.69,471.42 L337.95,471.41 L338.01,471.41 M341.36,471.36 L341.38,471.36 L342.70,471.34 L344.01,471.33 L345.33,471.32 L346.65,471.31 L347.97,471.30 L349.29,471.30 L349.30,471.30 M352.70,471.30 L352.71,471.30 L352.98,471.30 L353.24,471.30 L353.50,471.30 L353.77,471.30 L354.03,471.30 L354.29,471.30 L354.56,471.30 L354.70,471.30 M358.09,471.30 L358.16,471.30 L359.48,471.30 L360.80,471.30 L362.11,471.30 L363.43,471.30 L364.75,471.30 L366.07,471.30 L366.09,471.30 M369.49,471.30 L369.49,471.30 L369.76,471.30 L370.02,471.30 L370.29,471.30 L370.55,471.30 L370.81,471.30 L371.08,471.30 L371.34,471.30 L371.49,471.30 M374.89,471.30 L374.94,471.30 L376.26,471.30 L377.58,471.30 L378.90,471.30 L380.21,471.30 L381.53,471.30 L382.85,471.30 L382.89,471.30 M386.29,471.30 L386.36,471.30 L386.63,471.30 L386.89,471.30 L387.15,471.30 L387.42,471.30 L387.68,471.30 L387.95,471.30 L388.21,471.30 L388.29,471.30" fill="none" stroke="#008080" stroke-width="1.80"/>
<rect x="101.70" y="399.60" width="387.00" height="285.90" fill="none" stroke="#000" stroke-width="2.40"/>
<path d="M110.98,685.50 V679.50 M125.50,685.50 V674.10 M140.02,685.50 V679.50 M154.54,685.50 V679.50 M169.06,685.50 V679.50 M183.58,685.50 V679.50 M198.10,685.50 V674.10 M212.62,685.50 V679.50 M227.14,685.50 V679.50 M241.66,685.50 V679.50 M256.18,685.50 V679.50 M270.70,685.50 V674.10 M285.22,685.50 V679.50 M299.74,685.50 V679.50 M314.26,685.50 V679.50 M328.78,685.50 V679.50 M343.30,685.50 V674.10 M357.82,685.50 V679.50 M372.34,685.50 V679.50 M386.86,685.50 V679.50 M401.38,685.50 V679.50 M415.90,685.50 V674.10 M430.42,685.50 V679.50 M444.94,685.50 V679.50 M459.46,685.50 V679.50 M473.98,685.50 V679.50 M117.18,399.60 V405.60 M132.66,399.60 V405.60 M148.14,399.60 V405.60 M163.62,399.60 V405.60 M179.10,399.60 V411.00 M194.58,399.60 V405.60 M210.06,399.60 V405.60 M225.54,399.60 V405.60 M241.02,399.60 V405.60 M256.50,399.60 V411.00 M271.98,399.60 V405.60 M287.46,399.60 V405.60 M302.94,399.60 V405.60 M318.42,399.60 V405.60 M333.90,399.60 V411.00 M349.38,399.60 V405.60 M364.86,399.60 V405.60 M380.34,399.60 V405.60 M395.82,399.60 V405.60 M411.30,399.60 V411.00 M426.78,399.60 V405.60 M442.26,399.60 V405.60 M457.74,399.60 V405.60 M473.22,399.60 V405.60 M101.70,413.97 H108.30 M488.70,413.97 H482.10 M101.70,428.26 H108.30 M488.70,428.26 H482.10 M101.70,442.56 H108.30 M488.70,442.56 H482.10 M101.70,456.85 H108.30 M488.70,456.85 H482.10 M101.70,471.15 H113.70 M488.70,471.15 H476.70 M101.70,485.45 H108.30 M488.70,485.45 H482.10 M101.70,499.74 H108.30 M488.70,499.74 H482.10 M101.70,514.04 H108.30 M488.70,514.04 H482.10 M101.70,528.33 H108.30 M488.70,528.33 H482.10 M101.70,542.63 H113.70 M488.70,542.63 H476.70 M101.70,556.93 H108.30 M488.70,556.93 H482.10 M101.70,571.22 H108.30 M488.70,571.22 H482.10 M101.70,585.52 H108.30 M488.70,585.52 H482.10 M101.70,599.81 H108.30 M488.70,599.81 H482.10 M101.70,614.11 H113.70 M488.70,614.11 H476.70 M101.70,628.41 H108.30 M488.70,628.41 H482.10 M101.70,642.70 H108.30 M488.70,642.70 H482.10 M101.70,657.00 H108.30 M488.70,657.00 H482.10 M101.70,671.29 H108.30 M488.70,671.29 H482.10" fill="none" stroke="#000" stroke-width="2.20"/>
<g font-family="Liberation Sans, sans-serif" font-size="18.30" fill="#000" stroke="#000" stroke-width="0.3">
<text x="80.13" y="405.67" font-size="18.30">4</text>
<text x="80.13" y="477.15" font-size="18.30">0</text>
<text x="74.03" y="548.63" font-size="18.30">-4</text>
<text x="74.03" y="620.11" font-size="18.30">-8</text>
<text x="63.86" y="691.59" font-size="18.30">-</text><path d="M76.77,691.59L75.16,691.59L75.16,681.34Q74.58,681.89 73.64,682.45T71.94,683.28L71.94,681.73Q73.29,681.09 74.30,680.19T75.73,678.44L76.77,678.44Z"/><text x="80.13" y="691.59" font-size="18.30">2</text>
<text x="120.41" y="711.50" font-size="18.30">0</text>
<text x="193.01" y="711.50" font-size="18.30">3</text>
<text x="265.61" y="711.50" font-size="18.30">6</text>
<text x="338.21" y="711.50" font-size="18.30">9</text>
<path d="M412.54,711.50L410.93,711.50L410.93,701.25Q410.35,701.80 409.41,702.36T407.72,703.19L407.72,701.64Q409.07,701.00 410.08,700.10T411.51,698.35L412.54,698.35Z"/><text x="415.90" y="711.50" font-size="18.30">2</text>
<path d="M485.14,711.50L483.53,711.50L483.53,701.25Q482.95,701.80 482.01,702.36T480.32,703.19L480.32,701.64Q481.67,701.00 482.68,700.10T484.11,698.35L485.14,698.35Z"/><text x="488.50" y="711.50" font-size="18.30">5</text>
<text x="262.60" y="740.40" font-size="18.30">r (</text><path d="M286.69,740.40L285.08,740.40L285.08,730.15Q284.50,730.70 283.56,731.26T281.87,732.09L281.87,730.54Q283.22,729.90 284.23,729.00T285.66,727.25L286.69,727.25Z"/><text x="290.05" y="740.40" font-size="18.30">0</text>
<text x="300.22" y="731.00" font-size="10.50">5</text>
<text x="306.06" y="740.40" font-size="18.30">m)</text>
<g transform="translate(45.80,0) rotate(-90)">
<path d="M-573.08,0.00L-574.69,0.00L-574.69,-10.25Q-575.27,-9.70 -576.21,-9.14T-577.91,-8.31L-577.91,-9.86Q-576.56,-10.50 -575.55,-11.40T-574.12,-13.15L-573.08,-13.15Z"/><text x="-569.73" y="0.00" font-size="18.30">0</text>
<text x="-559.60" y="-9.90" font-size="10.00">2</text><path d="M-550.31,-9.90L-551.19,-9.90L-551.19,-15.50Q-551.51,-15.20 -552.03,-14.90T-552.95,-14.44L-552.95,-15.29Q-552.21,-15.64 -551.66,-16.13T-550.88,-17.09L-550.31,-17.09Z"/>
<text x="-543.20" y="0.00" font-size="18.30">N</text>
<text x="-530.70" y="0.00" font-size="18.30">·</text>
<text x="-526.10" y="0.00" font-size="18.30">m</text>
<text x="-510.90" y="-9.90" font-size="10.00">-3</text>
</g>
</g>
<path d="M251.90,589.30 H285.20" stroke="#000" stroke-width="1.80"/>
<path d="M251.90,606.80 H285.20" stroke="#ff0000" stroke-width="1.80" stroke-dasharray="7.1 6.0"/>
<path d="M251.90,623.90 H285.70" stroke="#0000ff" stroke-width="1.95" stroke-dasharray="2.4 5.3"/>
<path d="M251.90,641.30 H285.20" stroke="#008080" stroke-width="1.80" stroke-dasharray="8 3.4 2 3.4"/>
<g font-family="Liberation Sans, sans-serif" font-size="14.00" fill="#000" stroke="#000" stroke-width="0.25">
<text x="288.80" y="594.50">first term</text>
<text x="288.80" y="612.00">second term</text>
<text x="288.80" y="629.10">first term +second term</text>
<text x="288.80" y="646.50">dp/dr for the uncharged case</text>
</g>
<text x="254.00" y="444.90" font-family="Liberation Serif, serif" font-size="13.50" fill="#000" stroke="#000" stroke-width="0.15">α=5.0<tspan dx="-0.6">×</tspan><tspan dx="-0.6">10</tspan><tspan font-size="7.50" dx="-1.3" dy="-7.20">−19</tspan></text>
</svg>
</body></html>
